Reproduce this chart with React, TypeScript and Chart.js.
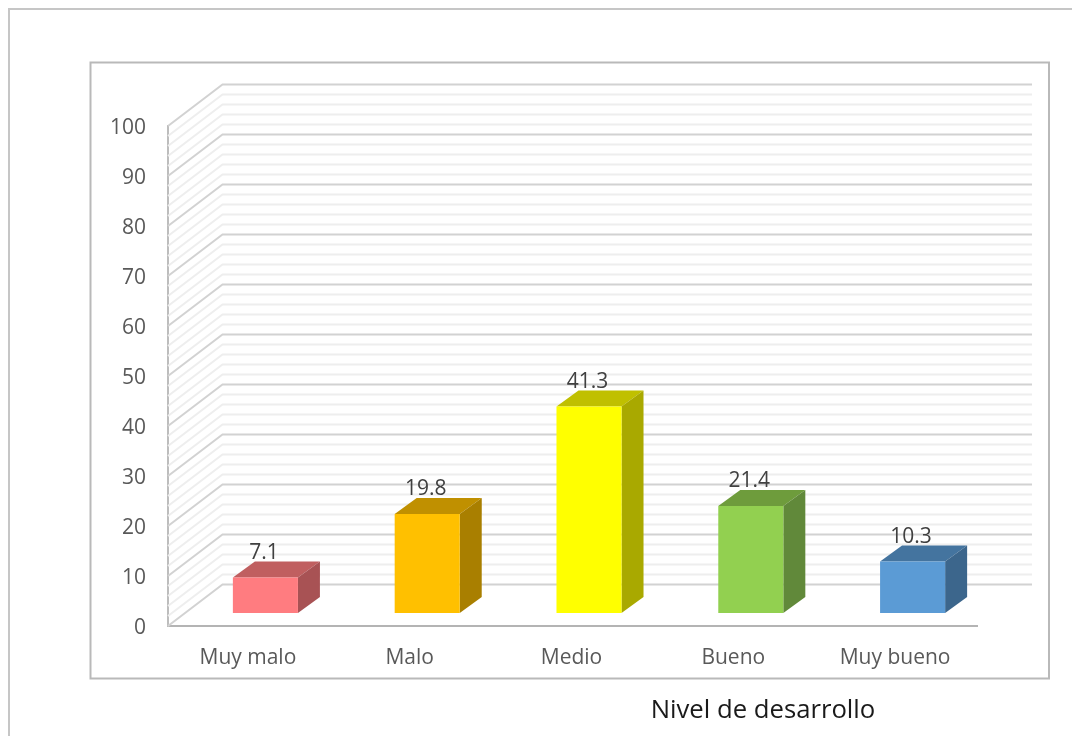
import React, { useEffect, useRef } from "react";
import { Chart, registerables } from "chart.js";

Chart.register(...registerables);

const categories = ["Muy malo", "Malo", "Medio", "Bueno", "Muy bueno"];
const values = [7.1, 19.8, 41.3, 21.4, 10.3];
const barColors = ["#FF7C80", "#FFC000", "#FFFF00", "#92D050", "#5B9BD5"];
const topColors = ["#C05F60", "#C09000", "#C0C000", "#6E9C3C", "#44749F"];
const sideColors = ["#A85254", "#A97F00", "#A9A900", "#61893A", "#3C668C"];
const xTitle = "Nivel de desarrollo";

const FONT = "'Open Sans'";
const TEXT = "#595959";
const WALL = { dx: 54.5, dy: -41.5, right: 1032 };
const BAR = { ox: 16.5, oy: -13, dx: 22, dy: -16 };

const scene = {
  id: "scene",
  beforeDraw(chart: any) {
    const { ctx } = chart;
    ctx.save();
    ctx.lineWidth = 2;
    ctx.strokeStyle = "#c6c6c6";
    ctx.beginPath();
    ctx.moveTo(9, 736);
    ctx.lineTo(9, 9);
    ctx.lineTo(1072, 9);
    ctx.stroke();
    ctx.strokeStyle = "#b9b9b9";
    ctx.strokeRect(90.5, 62.5, 958.5, 616);
    ctx.restore();
  },
  beforeDatasetsDraw(chart: any) {
    const { ctx, scales } = chart;
    const left = scales.x.left;
    ctx.save();
    const steps: number[] = [];
    for (let v = 0; v <= 100; v += 2) steps.push(v);
    const ordered = [...steps.filter((v) => v % 10 !== 0), ...steps.filter((v) => v % 10 === 0)];
    ordered.forEach((v) => {
      const y = scales.y.getPixelForValue(v);
      ctx.strokeStyle = v % 10 === 0 ? "#d2d2d2" : "#eeeeee";
      ctx.lineWidth = 2;
      ctx.beginPath();
      ctx.moveTo(left, y);
      ctx.lineTo(left + WALL.dx, y + WALL.dy);
      ctx.lineTo(WALL.right, y + WALL.dy);
      ctx.stroke();
    });
    ctx.restore();

    const bars = chart.getDatasetMeta(0).data;
    ctx.save();
    ctx.translate(BAR.ox, BAR.oy);
    bars.forEach((b: any, i: number) => {
      const l = b.x - b.width / 2;
      const r = b.x + b.width / 2;
      ctx.fillStyle = topColors[i];
      ctx.beginPath();
      ctx.moveTo(l, b.y);
      ctx.lineTo(l + BAR.dx, b.y + BAR.dy);
      ctx.lineTo(r + BAR.dx, b.y + BAR.dy);
      ctx.lineTo(r, b.y);
      ctx.closePath();
      ctx.fill();
      ctx.fillStyle = sideColors[i];
      ctx.beginPath();
      ctx.moveTo(r, b.y);
      ctx.lineTo(r + BAR.dx, b.y + BAR.dy);
      ctx.lineTo(r + BAR.dx, b.base + BAR.dy);
      ctx.lineTo(r, b.base);
      ctx.closePath();
      ctx.fill();
    });
    ctx.restore();
  },
  beforeDatasetDraw(chart: any) {
    chart.ctx.save();
    chart.ctx.translate(BAR.ox, BAR.oy);
  },
  afterDatasetDraw(chart: any) {
    chart.ctx.restore();
  },
  afterDatasetsDraw(chart: any) {
    const { ctx } = chart;
    const bars = chart.getDatasetMeta(0).data;
    ctx.save();
    ctx.font = `21px ${FONT}`;
    ctx.fillStyle = "#404040";
    ctx.textAlign = "center";
    ctx.textBaseline = "middle";
    bars.forEach((b: any, i: number) => {
      ctx.fillText(values[i].toFixed(1), b.x + BAR.ox - 1.5, b.y + BAR.oy + BAR.dy - 8.5);
    });
    ctx.font = `25.7px ${FONT}`;
    ctx.fillStyle = "#1a1a1a";
    ctx.fillText(xTitle, 763, 711);
    ctx.restore();
  },
};

export default function App() {
  const ref = useRef<HTMLCanvasElement>(null);
  useEffect(() => {
    const chart = new Chart(ref.current!, {
      type: "bar",
      data: {
        labels: categories,
        datasets: [
          {
            data: values,
            backgroundColor: barColors,
            categoryPercentage: 1,
            barPercentage: 0.402,
            clip: false,
          } as any,
        ],
      },
      options: {
        responsive: false,
        animation: false,
        layout: { padding: { left: 0, right: 95, top: 126, bottom: 0 } },
        plugins: { legend: { display: false }, tooltip: { enabled: false }, title: { display: false } },
        scales: {
          x: {
            grid: { display: false },
            border: { display: true, color: "#b4b4b4", width: 2 },
            ticks: { color: TEXT, padding: 11, labelOffset: -1, maxRotation: 0, font: { family: FONT, size: 21 } },
            afterFit: (s: any) => {
              s.width = s.width;
              s.height = 110;
            },
          },
          y: {
            min: 0,
            max: 100,
            grid: { display: false },
            border: { display: true, color: "#bdbdbd", width: 2 },
            ticks: { stepSize: 10, color: TEXT, padding: 14, labelOffset: 2.5, font: { family: FONT, size: 21 } },
            afterFit: (s: any) => {
              s.width = 168;
            },
          },
        },
      },
      plugins: [scene],
    });
    return () => chart.destroy();
  }, []);
  return (
    <div style={{ position: "absolute", left: 0, top: 0, width: 1072, height: 736 }}>
      <canvas ref={ref} width={1072} height={736} style={{ display: "block" }} />
    </div>
  );
}
